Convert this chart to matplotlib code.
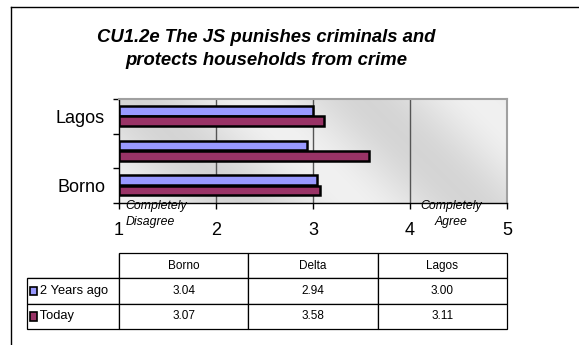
import numpy as np
import matplotlib
matplotlib.use("Agg")
import matplotlib.pyplot as plt
from matplotlib.lines import Line2D
from matplotlib.patches import Rectangle

categories = ["Borno", "Delta", "Lagos"]
series_names = ["2 Years ago", "Today"]
two_years_ago = [3.04, 2.94, 3.00]
today = [3.07, 3.58, 3.11]
series_colors = ["#9999ff", "#993366"]
x_ticks = [1, 2, 3, 4, 5]
title = "CU1.2e The JS punishes criminals and\nprotects households from crime"

plt.rcParams['font.family'] = ['Liberation Sans', 'DejaVu Sans']

W, H = 579, 345
fig = plt.figure(figsize=(W / 100, H / 100), dpi=100)
fig.patch.set_facecolor("white")

def fx(px):
    return px / W

def fy(py):
    return 1 - py / H

# outer frame
fig.add_artist(Line2D([fx(11), 1.0], [fy(7), fy(7)], color="black", lw=1.0))
fig.add_artist(Line2D([fx(11), fx(11)], [fy(7), 0.0], color="black", lw=1.0))

fig.text(fx(266), fy(49), title, ha="center", va="center", fontsize=13.3,
         fontweight="bold", fontstyle="italic", linespacing=1.5)

# main axes
L, R, T, B = 119, 507, 99, 203
ax = fig.add_axes([fx(L), fy(B), fx(R) - fx(L), fy(T) - fy(B)])
ax.set_xlim(1, 5)
ax.set_ylim(-0.5, len(categories) - 0.5)

# background gradient
nx, ny = 400, 120
xx, yy = np.meshgrid(np.linspace(0, 1, nx), np.linspace(0, 1, ny))
d = xx * 3.7 + yy * 1.0
val = 0.89 + 0.055 * np.cos(2 * np.pi * (d - 0.05) / 2.2)
img = np.dstack([val, val, val])
ax.imshow(img, extent=[1, 5, -0.5, len(categories) - 0.5], origin="lower",
          aspect="auto", zorder=0, interpolation="bilinear")

for gx in [2, 3, 4]:
    ax.axvline(gx, color="#555555", lw=1.0, zorder=1)

h = 0.28
y = np.arange(len(categories))
ax.barh(y + 0.16, [v - 1 for v in two_years_ago], left=1, height=h,
        color=series_colors[0], edgecolor="black", lw=1.8, zorder=3)
ax.barh(y - 0.14, [v - 1 for v in today], left=1, height=h,
        color=series_colors[1], edgecolor="black", lw=1.8, zorder=3)

for s in ["top", "right"]:
    ax.spines[s].set_color("#a0a0a0")
    ax.spines[s].set_linewidth(1.5)
for s in ["left", "bottom"]:
    ax.spines[s].set_color("black")
    ax.spines[s].set_linewidth(1.0)

ax.set_yticks(np.arange(-0.5, len(categories), 1.0))
ax.set_yticklabels([])
ax.tick_params(axis="y", which="major", length=4, width=1, direction="out")
ax.set_yticks(y, minor=True)
ax.set_yticklabels(["Borno", "", "Lagos"], minor=True, fontsize=13)
ax.tick_params(axis="y", which="minor", length=0, pad=10)

ax.set_xticks(x_ticks)
ax.set_xticklabels([str(t) for t in x_ticks], fontsize=13)
ax.tick_params(axis="x", length=4, width=1, direction="out", pad=10)

ax.text(1.07, -0.6, "Completely", fontsize=8.8, fontstyle="italic",
        ha="left", va="center", clip_on=False)
ax.text(1.07, -1.06, "Disagree", fontsize=8.8, fontstyle="italic",
        ha="left", va="center", clip_on=False)
ax.text(4.42, -0.6, "Completely", fontsize=8.8, fontstyle="italic",
        ha="center", va="center", clip_on=False)
ax.text(4.42, -1.06, "Agree", fontsize=8.8, fontstyle="italic",
        ha="center", va="center", clip_on=False)

# data table
tx0, tx1, ty0, ty1 = 27, 507, 253, 329
tax = fig.add_axes([fx(tx0), fy(ty1), fx(tx1) - fx(tx0), fy(ty0) - fy(ty1)])
tax.axis("off")
cell_text = [[""] + categories]
for name, vals in zip(series_names, [two_years_ago, today]):
    cell_text.append(["   " + name] + [f"{v:.2f}" for v in vals])
col_w = [92 / 480] + [129.3 / 480] * 3
tbl = tax.table(cellText=cell_text, colWidths=col_w, bbox=[0, 0, 1, 1],
                cellLoc="center")
tbl.auto_set_font_size(False)
for (r, c), cell in tbl.get_celld().items():
    cell.set_fontsize(8.5)
    cell.set_linewidth(0.9)
    if c == 0:
        cell.set_fontsize(9.3)
        cell.get_text().set_ha("left")
        cell.PAD = 0.02
    if r == 0 and c == 0:
        cell.visible_edges = "BR"
# legend keys
for i, col in enumerate(series_colors):
    cy = 1 - (1 + i + 0.5) / 3
    tax.add_patch(Rectangle((0.006, cy - 0.055), 0.014, 0.11,
                            transform=tax.transAxes, facecolor=col,
                            edgecolor="black", lw=1.2, zorder=5, clip_on=False))

fig.savefig("out.png", dpi=100)
